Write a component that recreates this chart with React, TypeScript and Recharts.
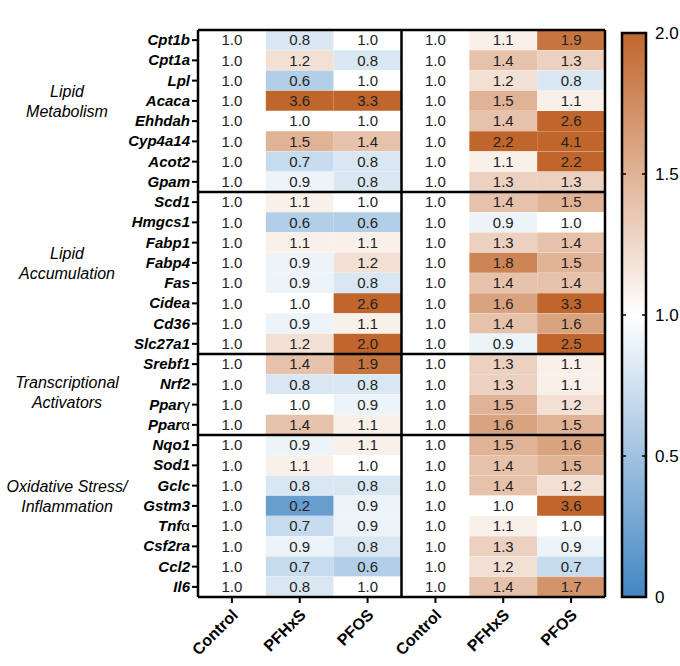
import React from 'react';
import {
  BarChart, Bar, XAxis, YAxis, Cell, LabelList, ReferenceLine,
} from 'recharts';

// rows of the heatmap, top to bottom
const genes = [
  'Cpt1b', 'Cpt1a', 'Lpl', 'Acaca', 'Ehhdah', 'Cyp4a14', 'Acot2', 'Gpam',
  'Scd1', 'Hmgcs1', 'Fabp1', 'Fabp4', 'Fas', 'Cidea', 'Cd36', 'Slc27a1',
  'Srebf1', 'Nrf2', 'Pparγ', 'Pparα',
  'Nqo1', 'Sod1', 'Gclc', 'Gstm3', 'Tnfα', 'Csf2ra', 'Ccl2', 'Il6',
];

const columns = ['Control', 'PFHxS', 'PFOS', 'Control', 'PFHxS', 'PFOS'];
const diets = ['LFD', 'HFHC'];

// fold change per column
const lfdControl = [1.0, 1.0, 1.0, 1.0, 1.0, 1.0, 1.0, 1.0, 1.0, 1.0, 1.0, 1.0, 1.0, 1.0, 1.0, 1.0, 1.0, 1.0, 1.0, 1.0, 1.0, 1.0, 1.0, 1.0, 1.0, 1.0, 1.0, 1.0];
const lfdPfhxs = [0.8, 1.2, 0.6, 3.6, 1.0, 1.5, 0.7, 0.9, 1.1, 0.6, 1.1, 0.9, 0.9, 1.0, 0.9, 1.2, 1.4, 0.8, 1.0, 1.4, 0.9, 1.1, 0.8, 0.2, 0.7, 0.9, 0.7, 0.8];
const lfdPfos = [1.0, 0.8, 1.0, 3.3, 1.0, 1.4, 0.8, 0.8, 1.0, 0.6, 1.1, 1.2, 0.8, 2.6, 1.1, 2.0, 1.9, 0.8, 0.9, 1.1, 1.1, 1.0, 0.8, 0.9, 0.9, 0.8, 0.6, 1.0];
const hfhcControl = [1.0, 1.0, 1.0, 1.0, 1.0, 1.0, 1.0, 1.0, 1.0, 1.0, 1.0, 1.0, 1.0, 1.0, 1.0, 1.0, 1.0, 1.0, 1.0, 1.0, 1.0, 1.0, 1.0, 1.0, 1.0, 1.0, 1.0, 1.0];
const hfhcPfhxs = [1.1, 1.4, 1.2, 1.5, 1.4, 2.2, 1.1, 1.3, 1.4, 0.9, 1.3, 1.8, 1.4, 1.6, 1.4, 0.9, 1.3, 1.3, 1.5, 1.6, 1.5, 1.4, 1.4, 1.0, 1.1, 1.3, 1.2, 1.4];
const hfhcPfos = [1.9, 1.3, 0.8, 1.1, 2.6, 4.1, 2.2, 1.3, 1.5, 1.0, 1.4, 1.5, 1.4, 3.3, 1.6, 2.5, 1.1, 1.1, 1.2, 1.5, 1.6, 1.5, 1.2, 3.6, 1.0, 0.9, 0.7, 1.7];

const series = [lfdControl, lfdPfhxs, lfdPfos, hfhcControl, hfhcPfhxs, hfhcPfos];

// gene groups: first row index and row count
const groups = [
  { lines: ['Lipid', 'Metabolism'], from: 0, count: 8 },
  { lines: ['Lipid', 'Accumulation'], from: 8, count: 8 },
  { lines: ['Transcriptional', 'Activators'], from: 16, count: 4 },
  { lines: ['Oxidative Stress/', 'Inflammation'], from: 20, count: 8 },
];

const colorTicks = [0, 0.5, 1, 1.5, 2];

const FONT = '"Liberation Sans", Arial, Helvetica, sans-serif';
const LOW = [66, 134, 194];
const MID = [255, 255, 255];
const HIGH = [192, 102, 44];

// layout
const W = 680;
const H = 666;
const TOP = 30;
const BOTTOM = 69;
const ROW_H = (H - TOP - BOTTOM) / genes.length;
// vertical centre of each group caption, in rows from the top
const groupLabelCenter = [3.5, 11.5, 17.9, 23];
const BAR_W = 24;
const LABEL_GAP = 9;

function heat(v: number) {
  const t = Math.max(0, Math.min(2, v));
  const a = t < 1 ? LOW : MID;
  const b = t < 1 ? MID : HIGH;
  const f = t < 1 ? t : t - 1;
  const c = a.map((x, i) => Math.round(x + (b[i] - x) * f));
  return `rgb(${c[0]},${c[1]},${c[2]})`;
}

const data = genes.map((g, i) => {
  const row: any = { gene: g };
  series.forEach((s, j) => {
    row['u' + j] = 1;
    row['v' + j] = s[i];
  });
  return row;
});

const colTicks = columns.map((_, i) => i + 0.5);

const GeneTick = (p: any) => {
  const name: string = p.payload.value;
  const greek = /[αγ]$/.test(name);
  const base = greek ? name.slice(0, -1) : name;
  return (
    <text x={p.x} y={p.y} dy={5} textAnchor="end" fontFamily={FONT} fontSize={15}
      fontWeight="bold" fontStyle="italic" fill="#000">
      {base}
      {greek && <tspan fontWeight="normal" fontStyle="normal">{name.slice(-1)}</tspan>}
    </text>
  );
};

const GroupTick = (p: any) => {
  const gi = groupLabelCenter.findIndex((c) => Math.min(genes.length - 1, Math.floor(c)) === p.index);
  if (gi < 0) return null;
  const g = groups[gi];
  const cy = p.y + (groupLabelCenter[gi] - (p.index + 0.5)) * ROW_H;
  return (
    <text x={67} y={cy} fontFamily={FONT} fontSize={16} fontStyle="italic" fill="#000" textAnchor="middle">
      <tspan x={67} dy={-4}>{g.lines[0]}</tspan>
      <tspan x={67} dy={20}>{g.lines[1]}</tspan>
    </text>
  );
};

const ColumnTick = (p: any) => {
  const label = columns[Math.floor(p.payload.value)];
  return (
    <text transform={`translate(${p.x + 7},${p.y + 11}) rotate(-45)`} textAnchor="end"
      fontFamily={FONT} fontSize={16} fontWeight="bold" fill="#000">
      {label}
    </text>
  );
};

const DietTick = (p: any) => (
  <text x={p.x} y={18} textAnchor="middle" fontFamily={FONT} fontSize={16} fontWeight="bold" fill="#000">
    {diets[Math.floor(p.payload.value / 3)]}
  </text>
);

// label of the colour scale, plus the small inward ticks on both edges of the bar
const ScaleTick = (p: any) => {
  const v: number = p.payload.value;
  const right = p.x - LABEL_GAP;
  const left = right - BAR_W;
  const inner = v > 0 && v < 2;
  return (
    <g>
      {inner && <line x1={left} x2={left + 4} y1={p.y} y2={p.y} stroke="#000" strokeWidth={1.5} />}
      {inner && <line x1={right - 4} x2={right} y1={p.y} y2={p.y} stroke="#000" strokeWidth={1.5} />}
      <text x={p.x} y={p.y} dy={6} textAnchor="start" fontFamily={FONT} fontSize={17} fill="#000">
        {v === 0 ? '0' : v.toFixed(1)}
      </text>
    </g>
  );
};

function ColorBar() {
  return (
    <BarChart width={66} height={H} data={[{ k: 'scale', v: 2 }]}
      margin={{ top: 33, right: 0, bottom: BOTTOM, left: 8 }} barCategoryGap={0}>
      <defs>
        <linearGradient id="heatGrad" x1="0" y1="0" x2="0" y2="1">
          <stop offset="0%" stopColor={heat(2)} />
          <stop offset="50%" stopColor={heat(1)} />
          <stop offset="100%" stopColor={heat(0)} />
        </linearGradient>
      </defs>
      <XAxis dataKey="k" hide />
      <Bar dataKey="v" fill="url(#heatGrad)" stroke="#000" strokeWidth={2.5} isAnimationActive={false} />
      <YAxis orientation="right" width={66 - 8 - BAR_W} domain={[0, 2]} ticks={colorTicks} axisLine={false}
        tickLine={false} tickSize={0} tickMargin={LABEL_GAP} tick={<ScaleTick />} />
    </BarChart>
  );
}

export default function App() {
  return (
    <div style={{ position: 'absolute', left: 0, top: 0, width: W, height: H, background: '#fff' }}>
      <BarChart width={W} height={H} data={data} layout="vertical"
        margin={{ top: 0, right: 75, bottom: 0, left: 0 }} barCategoryGap={0} barGap={0}>
        <XAxis xAxisId="b" type="number" domain={[0, 6]} ticks={colTicks} orientation="bottom" height={BOTTOM}
          axisLine={{ stroke: '#000', strokeWidth: 2.5 }} tickLine={{ stroke: '#000', strokeWidth: 2 }}
          tickSize={6} tick={<ColumnTick />} interval={0} />
        <XAxis xAxisId="t" type="number" domain={[0, 6]} ticks={[1.5, 4.5]} orientation="top" height={TOP}
          axisLine={false} tickLine={false} tick={<DietTick />} interval={0} />
        <YAxis yAxisId="g" type="category" dataKey="gene" width={90} interval={0}
          axisLine={{ stroke: '#000', strokeWidth: 2.5 }} tickLine={{ stroke: '#000', strokeWidth: 2 }}
          tickSize={6} tick={<GeneTick />} />
        <YAxis yAxisId="grp" type="category" dataKey="gene" width={108} interval={0}
          axisLine={false} tickLine={false} tick={<GroupTick />} />
        {series.map((_, j) => (
          <Bar key={j} xAxisId="b" yAxisId="g" dataKey={'u' + j} stackId="cells" isAnimationActive={false}>
            {data.map((d, i) => (
              <Cell key={i} fill={heat(d['v' + j])} />
            ))}
            <LabelList dataKey={'v' + j} position="center" fill="#222" fontSize={15} fontFamily={FONT}
              formatter={(v: any) => Number(v).toFixed(1)} />
          </Bar>
        ))}
        {groups.slice(1).map((g) => (
          <ReferenceLine key={g.from} xAxisId="b" yAxisId="g" y={genes[g.from]} position="start"
            stroke="#000" strokeWidth={2.5} />
        ))}
        <ReferenceLine xAxisId="b" yAxisId="g" y={genes[0]} position="start" stroke="#000" strokeWidth={2.5} />
        <ReferenceLine xAxisId="b" yAxisId="g" x={3} stroke="#000" strokeWidth={2.5} />
        <ReferenceLine xAxisId="b" yAxisId="g" x={6} stroke="#000" strokeWidth={2.5} />
      </BarChart>
      <div style={{ position: 'absolute', left: 614, top: 0 }}>
        <ColorBar />
      </div>
    </div>
  );
}
